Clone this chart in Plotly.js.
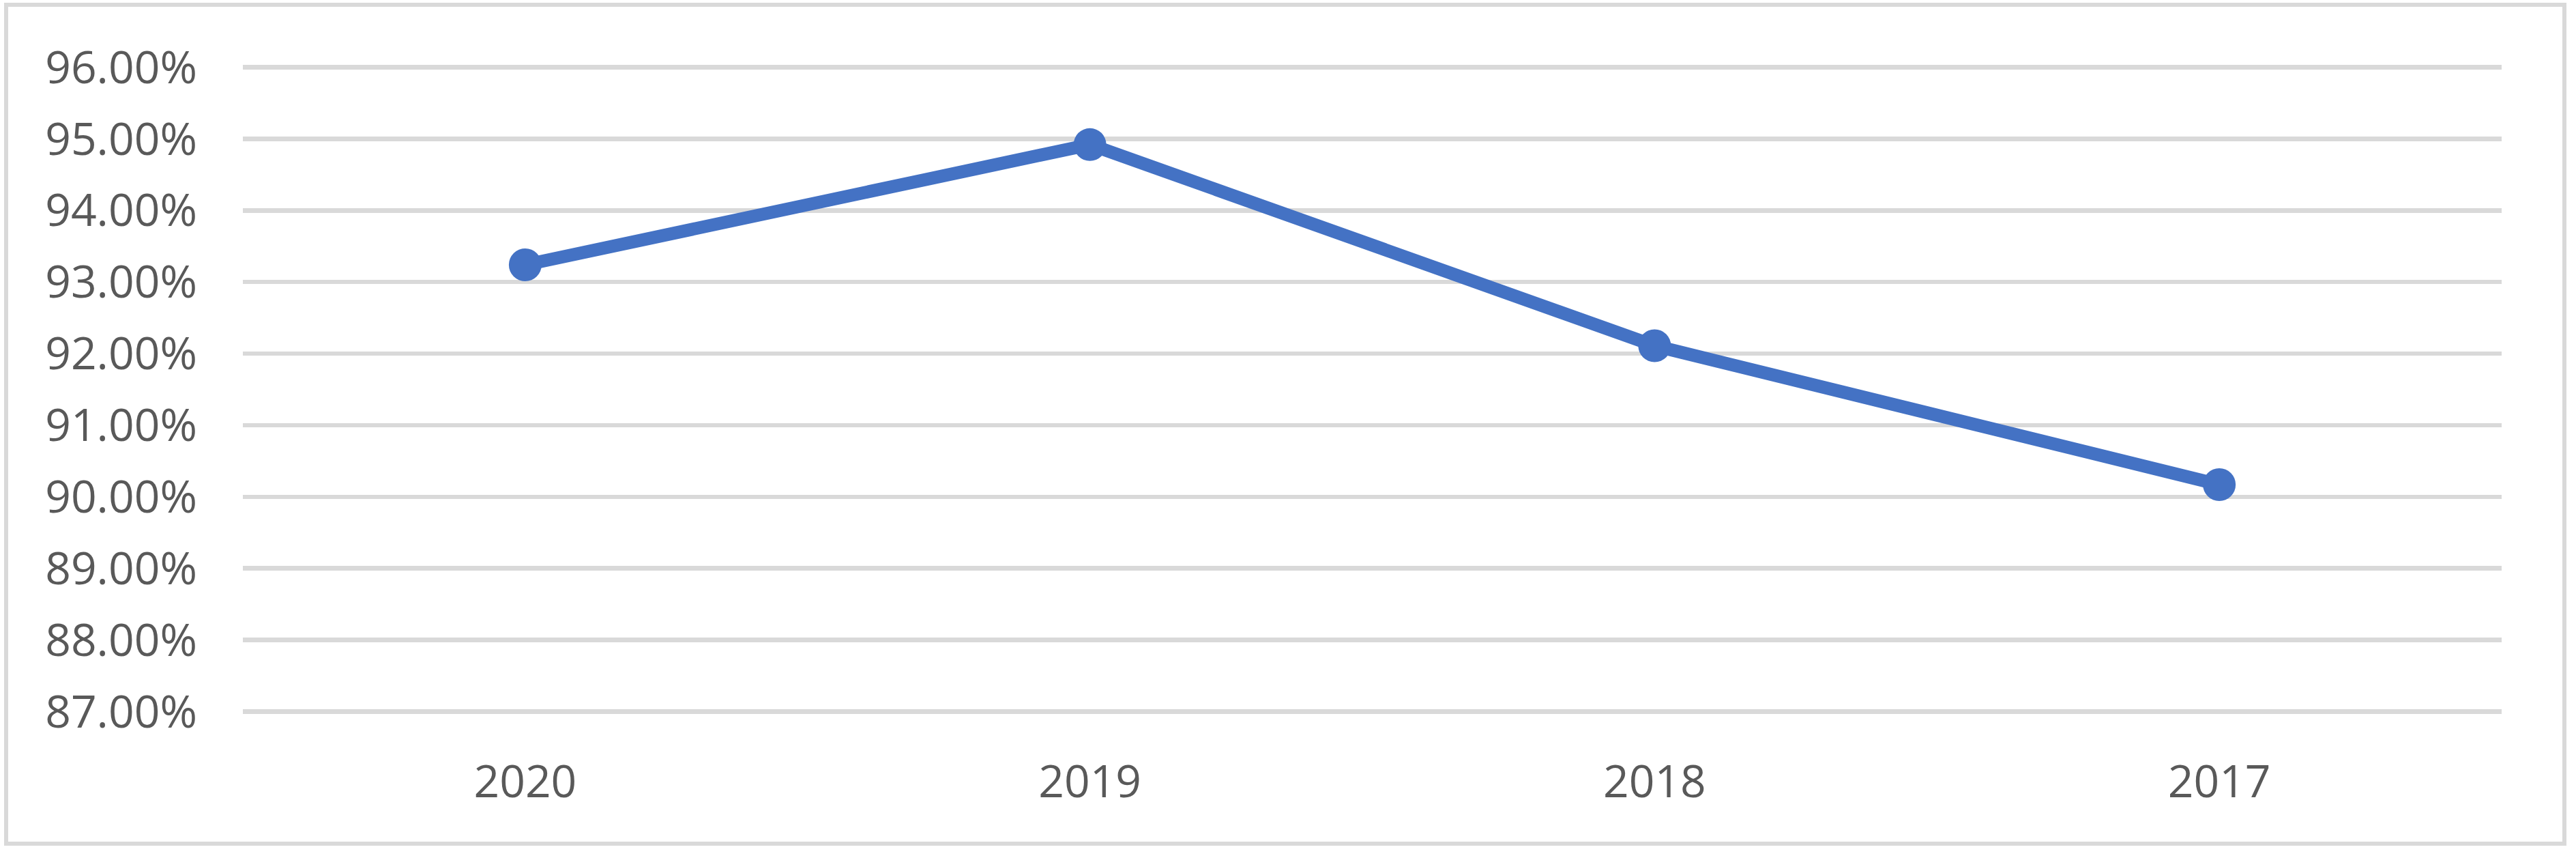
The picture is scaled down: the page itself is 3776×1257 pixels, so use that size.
<!DOCTYPE html>
<html>
<head>
<meta charset="utf-8">
<script src="https://cdn.plot.ly/plotly-3.0.1.min.js"></script>
<style>
  html, body { margin: 0; padding: 0; background: #ffffff; }
  #wrap { position: relative; width: 3776px; height: 1257px; overflow: hidden; }
  #chart { position: absolute; left: 0; top: 0; width: 3776px; height: 1257px; }
  #frame { position: absolute; left: 6px; top: 4px; width: 3756px; height: 1235px;
           box-sizing: border-box; border: 6.5px solid #d9d9d9; pointer-events: none; }
</style>
</head>
<body>
<div id="wrap">
  <div id="chart"></div>
  <div id="frame"></div>
</div>
<script>
const years = ["2020", "2019", "2018", "2017"];
const rates = [0.9324, 0.9492, 0.9211, 0.9017];
const yTicks = [0.87, 0.88, 0.89, 0.90, 0.91, 0.92, 0.93, 0.94, 0.95, 0.96];

const fontFamily = '"Segoe UI", "Open Sans", "Noto Sans", sans-serif';

const trace = {
  type: 'scatter',
  mode: 'lines+markers',
  x: years,
  y: rates,
  line: { color: '#4472C4', width: 19 },
  marker: { color: '#4472C4', size: 48 },
  hoverinfo: 'skip'
};

const layout = {
  width: 3776,
  height: 1257,
  margin: { l: 356, r: 109, t: 97, b: 213 },
  paper_bgcolor: '#ffffff',
  plot_bgcolor: '#ffffff',
  showlegend: false,
  font: { family: fontFamily, color: '#595959', size: 66 },
  xaxis: {
    type: 'category',
    range: [-0.5, 3.5],
    showgrid: false,
    zeroline: false,
    showline: false,
    ticks: '',
    ticklabelstandoff: 57,
    tickfont: { family: fontFamily, color: '#595959', size: 66 }
  },
  yaxis: {
    range: [0.86985, 0.96015],
    tickvals: yTicks,
    tickformat: '.2%',
    showgrid: true,
    gridcolor: '#d9d9d9',
    gridwidth: 6.5,
    zeroline: false,
    showline: false,
    ticks: '',
    ticklabelstandoff: 66,
    tickfont: { family: fontFamily, color: '#595959', size: 66 }
  }
};

Plotly.newPlot('chart', [trace], layout, { staticPlot: true, displayModeBar: false });
</script>
</body>
</html>
